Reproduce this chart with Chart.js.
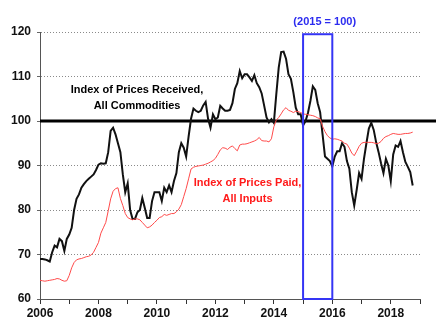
<!DOCTYPE html>
<html>
<head>
<meta charset="utf-8">
<script src="https://cdn.jsdelivr.net/npm/chart.js@4.4.0/dist/chart.umd.min.js"></script>
<style>
  html, body { margin: 0; padding: 0; background: #fff; }
</style>
</head>
<body>
<canvas id="myChart" width="436" height="327"></canvas>
<script>
// monthly index values, Jan 2006 .. Oct 2018 (2015 = 100)
const startYear = 2006
const received = [
  69, 69, 68.9, 68.7, 68.4, 70.5, 72, 71.6, 73.5, 73, 70.8, 73.5,
  74.5, 76, 80, 82.5, 83.5, 85, 85.8, 86.5, 87, 87.5, 88, 89,
  90.2, 90.5, 90.4, 90.5, 93, 97.8, 98.5, 97, 95, 93, 88, 84,
  86, 80, 78, 78, 79.5, 80, 82.7, 80.5, 78.2, 78.2, 82, 84,
  84, 84, 82, 85, 84, 85.5, 84, 86.5, 88.3, 93, 95, 94,
  92, 96.5, 100.5, 102.8, 102.3, 102, 102.3, 103.5, 104.3, 100.5, 98.5, 101.5,
  100.4, 100.8, 103.4, 102.8, 102.3, 102.3, 102.5, 104, 107.2, 108.5, 111.2, 109.6,
  110.5, 110.5, 109.8, 109, 110.3, 108.5, 107.6, 106.2, 103.5, 100.8, 99.7, 100.4,
  99.6, 106, 112, 115.5, 115.6, 114, 110.5, 109.5, 106.5, 103, 101.5, 101.5,
  99, 100, 101.8, 104.5, 107.8, 107, 104, 102, 97, 92, 91.5, 91,
  89.8, 92, 93.2, 93.2, 95, 94.2, 91, 89.3, 84, 81, 84.5, 88.3,
  87, 91.5, 95, 98.3, 99.6, 98, 95.2, 93, 90.5, 88.3, 91.5, 90,
  86.5, 92.5, 94.5, 94.2, 95.5, 93, 90.8, 89.7, 88.5, 85.5
]
const paid = [
  64.2, 64.1, 64, 64.1, 64.2, 64.3, 64.4, 64.6, 64.5, 64.2, 64, 64.1,
  65.3, 67, 68.2, 68.8, 69, 69.1, 69.3, 69.5, 69.6, 69.9, 70.5, 71.6,
  72.7, 74.8, 76, 77.2, 79.8, 82.5, 84.2, 84.8, 85, 82.6, 81, 79.2,
  78.3, 78, 77.8, 78, 78, 77.8, 77.2, 76.6, 76, 76.2, 76.6, 77.2,
  77.7, 78.3, 78.5, 79, 78.8, 79, 79.2, 79.2, 79.6, 80.2, 81.2, 83,
  84.8, 87, 89.2, 89.6, 89.8, 89.9, 90, 90.1, 90.3, 90.5, 90.8, 91.1,
  91.6, 92.5, 93.5, 94, 93.9, 93.6, 94.1, 94.4, 93.8, 93.3, 94.6, 94.8,
  94.8, 94.9, 95.1, 95.3, 95.5, 95.8, 96.3, 95.6, 95.5, 95.5, 95.3, 96,
  98.7, 100.2, 100.8, 101.6, 102.5, 103, 102.4, 102.2, 101.9, 102.2, 102.1, 101.9,
  101.6, 101.5, 101.4, 101.3, 101.2, 101, 100.7, 100.5, 98.8, 97.6, 96.7, 96.2,
  95.9, 96, 95.9, 95.7, 95.5, 95, 94.8, 93.9, 92.8, 92.2, 93.2, 94.3,
  95, 95.2, 95.2, 95.2, 95.2, 95.1, 94.9, 95, 95.4, 96.1, 96.5, 96.7,
  97, 97.2, 97.1, 97, 97, 97.1, 97.2, 97.2, 97.3, 97.5
]
const yTicks = [60, 70, 80, 90, 100, 110, 120]
const xTicks = [2006, 2007, 2008, 2009, 2010, 2011, 2012, 2013, 2014, 2015, 2016, 2017, 2018, 2019]
const xLabels = [2006, 2008, 2010, 2012, 2014, 2016, 2018]
const baseYear = [2015, 2016]
const baseValue = 100

const font = '"Liberation Sans", Arial, sans-serif'

const extras = {
  id: 'extras',
  beforeDatasetsDraw(chart) {
    const {ctx, chartArea, scales: {y}} = chart
    const py = y.getPixelForValue(baseValue)
    ctx.save()
    ctx.strokeStyle = '#000'
    ctx.lineWidth = 3
    ctx.beginPath()
    ctx.moveTo(chartArea.left, py)
    ctx.lineTo(chart.width, py)
    ctx.stroke()
    ctx.restore()
  },
  afterDatasetsDraw(chart) {
    const {ctx, scales: {x, y}} = chart
    ctx.save()

    // base period box
    const x1 = x.getPixelForValue(baseYear[0])
    const x2 = x.getPixelForValue(baseYear[1])
    const y1 = y.getPixelForValue(119.5)
    const y2 = y.getPixelForValue(60)
    ctx.strokeStyle = '#3535f5'
    ctx.lineWidth = 2
    ctx.strokeRect(x1, y1, x2 - x1, y2 - y1)

    ctx.textAlign = 'center'
    ctx.textBaseline = 'middle'
    ctx.font = 'bold 11px ' + font

    ctx.fillStyle = '#2b2bf0'
    ctx.fillText('(2015 = 100)', x.getPixelForValue(2015.74), y.getPixelForValue(122.2))

    ctx.fillStyle = '#000'
    ctx.fillText('Index of Prices Received,', x.getPixelForValue(2009.32), y.getPixelForValue(106.9))
    ctx.fillText('All Commodities', x.getPixelForValue(2009.32), y.getPixelForValue(103.3))

    ctx.fillStyle = '#ff1a1a'
    ctx.fillText('Index of Prices Paid,', x.getPixelForValue(2013.1), y.getPixelForValue(86.1))
    ctx.fillText('All Inputs', x.getPixelForValue(2013.1), y.getPixelForValue(82.5))

    ctx.restore()
  }
}

const ctx = document.getElementById('myChart').getContext('2d')

new Chart(ctx, {
  type: 'line',
  data: {
    datasets: [
      {
        label: 'Index of Prices Paid, All Inputs',
        data: paid.map((v, i) => ({x: startYear + i / 12, y: v})),
        borderColor: '#ff4a4a',
        borderWidth: 1,
        pointRadius: 0,
        tension: 0
      },
      {
        label: 'Index of Prices Received, All Commodities',
        data: received.map((v, i) => ({x: startYear + i / 12, y: v})),
        borderColor: '#111',
        borderWidth: 2,
        pointRadius: 0,
        tension: 0
      }
    ]
  },
  options: {
    responsive: false,
    animation: false,
    layout: {padding: {top: 32, right: 16, left: 0, bottom: 0}},
    plugins: {legend: {display: false}, tooltip: {enabled: false}},
    scales: {
      x: {
        type: 'linear',
        min: xTicks[0],
        max: xTicks[xTicks.length - 1],
        afterBuildTicks: s => { s.ticks = xTicks.map(v => ({value: v})) },
        afterFit: s => { s.height = 28 },
        grid: {drawOnChartArea: false, tickLength: 5, tickColor: '#333'},
        border: {color: '#555', width: 1},
        ticks: {
          autoSkip: false,
          maxRotation: 0,
          padding: 2,
          color: '#111',
          font: {family: font, size: 12, weight: 'bold'},
          callback: v => xLabels.includes(v) ? String(v) : ''
        }
      },
      y: {
        min: yTicks[0],
        max: yTicks[yTicks.length - 1],
        afterBuildTicks: s => { s.ticks = yTicks.map(v => ({value: v})) },
        afterFit: s => { s.width = 40 },
        grid: {
          color: c => (c.tick.value === baseValue || c.tick.value === yTicks[0]) ? 'rgba(0,0,0,0)' : '#8a8a8a',
          tickLength: 3,
          tickColor: '#666'
        },
        border: {color: '#555', width: 1, dash: [1, 2]},
        ticks: {
          padding: 6,
          color: '#111',
          font: {family: font, size: 12, weight: 'bold'}
        }
      }
    }
  },
  plugins: [extras]
})
</script>
</body>
</html>
